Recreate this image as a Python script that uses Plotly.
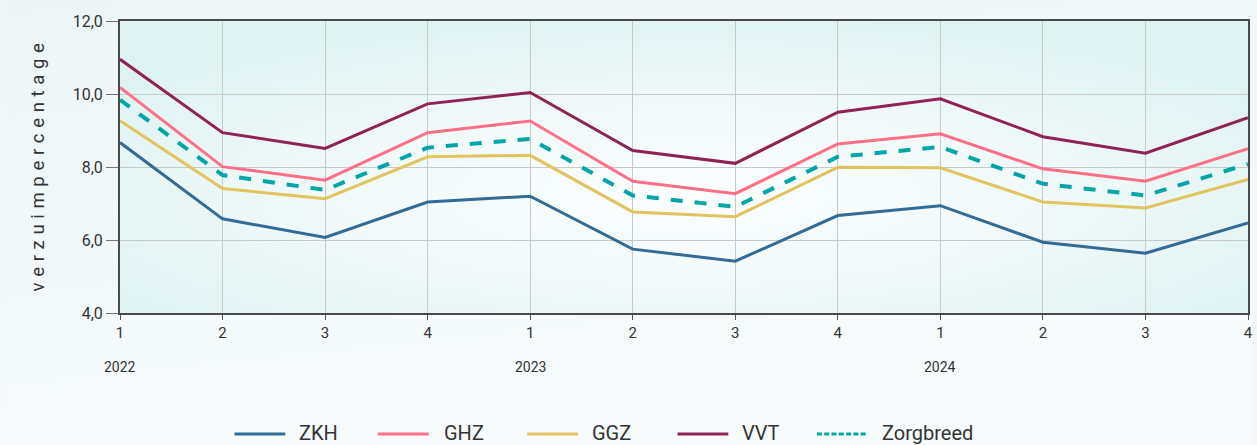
import base64
import plotly.graph_objects as go

quarters = ["1", "2", "3", "4", "1", "2", "3", "4", "1", "2", "3", "4"]
years = ["2022", "2023", "2024"]
year_pos = [0, 4, 8]

zkh = [8.67, 6.58, 6.07, 7.04, 7.20, 5.75, 5.42, 6.67, 6.94, 5.94, 5.64, 6.47]
ghz = [10.18, 8.01, 7.64, 8.94, 9.26, 7.61, 7.27, 8.63, 8.91, 7.95, 7.61, 8.50]
ggz = [9.27, 7.41, 7.13, 8.28, 8.32, 6.77, 6.64, 7.99, 7.98, 7.04, 6.88, 7.66]
vvt = [10.95, 8.94, 8.51, 9.73, 10.04, 8.45, 8.10, 9.50, 9.87, 8.83, 8.38, 9.35]
zorgbreed = [9.84, 7.78, 7.37, 8.53, 8.77, 7.22, 6.91, 8.28, 8.55, 7.54, 7.22, 8.08]

series = [
    ("ZKH", zkh, "#336b97", "solid", 3),
    ("GHZ", ghz, "#ff7088", "solid", 3),
    ("GGZ", ggz, "#e1c462", "solid", 3),
    ("VVT", vvt, "#8e2456", "solid", 3),
    ("Zorgbreed", zorgbreed, "#00a6a6", "dash", 4),
]

x = list(range(len(quarters)))

W, H = 1257, 445
L, R, T, B = 120, 4, 21, 132
pw, ph = W - L - R, H - T - B

def px(xp):
    return (xp - L) / pw

def py(yp):
    return (H - B - yp) / ph

fig = go.Figure()
for name, vals, color, dash, width in series:
    fig.add_trace(go.Scatter(x=x, y=vals, name=name, mode="lines", showlegend=False,
                             line=dict(color=color, dash=dash, width=width)))

def svg_uri(svg):
    return "data:image/svg+xml;base64," + base64.b64encode(svg.encode()).decode()

plot_svg = ('<svg xmlns="http://www.w3.org/2000/svg" width="1000" height="300" viewBox="0 0 1000 300" preserveAspectRatio="none">'
            '<defs><radialGradient id="g" cx="0.5" cy="0.6" r="0.62" gradientUnits="objectBoundingBox">'
            '<stop offset="0" stop-color="#fbfefe"/><stop offset="0.55" stop-color="#f0f9f9"/>'
            '<stop offset="1" stop-color="#dff2f2"/></radialGradient></defs>'
            '<rect width="1000" height="300" fill="url(#g)"/></svg>')
paper_svg = ('<svg xmlns="http://www.w3.org/2000/svg" width="1000" height="400" viewBox="0 0 1000 400" preserveAspectRatio="none">'
             '<defs><linearGradient id="p" x1="0" y1="0" x2="0.3" y2="1">'
             '<stop offset="0" stop-color="#edf6f7"/><stop offset="1" stop-color="#f7fbfc"/></linearGradient></defs>'
             '<rect width="1000" height="400" fill="url(#p)"/></svg>')

images = [
    dict(source=svg_uri(paper_svg), xref="paper", yref="paper",
         x=-L / pw, y=1 + T / ph, sizex=W / pw, sizey=H / ph,
         sizing="stretch", layer="below", xanchor="left", yanchor="top"),
    dict(source=svg_uri(plot_svg), xref="paper", yref="paper",
         x=0, y=1, sizex=1, sizey=1,
         sizing="stretch", layer="below", xanchor="left", yanchor="top"),
]

annotations = [
    dict(text=yr, x=p, y=0, xref="x", yref="paper", yshift=-64,
         showarrow=False, font=dict(size=14, color="#333333"))
    for yr, p in zip(years, year_pos)
]
ytitle = "\u2009\u200a".join("verzuimpercentage")
annotations.append(dict(text=ytitle, x=-95 / pw, y=0.5, xref="paper", yref="paper",
                        showarrow=False, textangle=-90,
                        font=dict(size=18.5, color="#333333")))

# custom legend (longer line samples, as in the reference)
legend_line_x = [235, 379, 529, 680, 820]
legend_text_x = [298, 443, 592, 743, 883]
legend_y = 433
shapes = []
for (name, vals, color, dash, width), lx, tx in zip(series, legend_line_x, legend_text_x):
    shapes.append(dict(type="line", xref="paper", yref="paper",
                       x0=px(lx), x1=px(lx + 51), y0=py(legend_y + 1), y1=py(legend_y + 1),
                       line=dict(color=color, width=3,
                                 dash="5px,2.3px" if dash == "dash" else "solid")))
    annotations.append(dict(text=name, x=px(tx), y=py(legend_y), xref="paper", yref="paper",
                            xanchor="left", yanchor="middle", showarrow=False,
                            font=dict(size=20, color="#333333")))

font_family = "Roboto, 'Open Sans', sans-serif"

fig.update_layout(
    width=W, height=H,
    margin=dict(l=L, r=R, t=T, b=B),
    paper_bgcolor="#f2f8f9",
    plot_bgcolor="rgba(0,0,0,0)",
    separators=",.",
    font=dict(family=font_family, color="#333333", size=14),
    images=images,
    annotations=annotations,
    shapes=shapes,
    showlegend=False,
    xaxis=dict(range=[0, 11], tickmode="array", tickvals=x, ticktext=quarters,
               showgrid=True, gridcolor="#c6caca", gridwidth=1,
               showline=True, linecolor="#4a4a4a", linewidth=2, mirror=True,
               ticks="outside", ticklen=5, tickcolor="#555555",
               tickfont=dict(size=15, color="#333333"), zeroline=False),
    yaxis=dict(range=[4, 12], tickmode="array", tickvals=[4, 6, 8, 10, 12],
               tickformat=".1f",
               showgrid=True, gridcolor="#c6caca", gridwidth=1,
               showline=True, linecolor="#4a4a4a", linewidth=2, mirror=True,
               ticks="outside", ticklen=12, tickcolor="#777777",
               tickfont=dict(size=16, color="#333333"), zeroline=False),
)

fig.write_html("out.html", config={"displayModeBar": False},
               post_script="document.body.style.margin='0';document.body.style.background='#f2f8f9';")
